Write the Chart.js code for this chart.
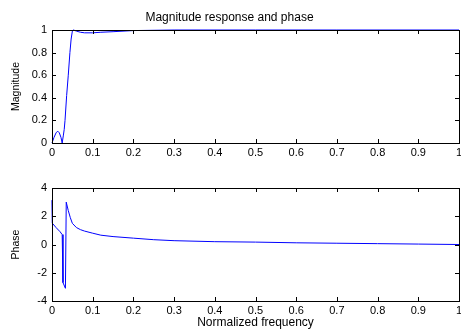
<!DOCTYPE html>
<html>
<head>
<meta charset="utf-8">
<script src="https://cdn.jsdelivr.net/npm/chart.js@4/dist/chart.umd.min.js"></script>
<style>
  body { margin: 0; background: #fff; }
  .box { position: absolute; left: 0; width: 461px; }
</style>
</head>
<body>
<div class="box" style="top:0;height:165px"><canvas id="magChart"></canvas></div>
<div class="box" style="top:165px;height:164px"><canvas id="phaseChart"></canvas></div>
<script>
// frekuensi ternormalisasi dan nilai yang dibaca dari gambar
const freqMag = [0, 0.005, 0.01, 0.014, 0.018, 0.022, 0.025, 0.028, 0.03, 0.032, 0.036, 0.04, 0.044, 0.047, 0.05, 0.053, 0.06, 0.07, 0.08, 0.1, 0.12, 0.15, 0.2, 0.3, 0.5, 0.7, 1];
const magnitude = [0, 0.05, 0.09, 0.105, 0.09, 0.05, 0, 0.07, 0.12, 0.2, 0.42, 0.6, 0.8, 0.92, 0.99, 1.0, 0.99, 0.98, 0.975, 0.975, 0.98, 0.985, 0.995, 1, 1, 1, 1];

const freqPhase = [0, 0.001, 0.01, 0.02, 0.025, 0.027, 0.033, 0.035, 0.04, 0.045, 0.05, 0.06, 0.07, 0.08, 0.1, 0.12, 0.15, 0.2, 0.25, 0.3, 0.4, 0.5, 0.6, 0.7, 0.8, 0.9, 1];
const phase = [3.14, 1.5, 1.2, 0.9, 0.7, -2.7, -3.1, 3.0, 2.4, 1.9, 1.5, 1.2, 1.05, 0.95, 0.8, 0.66, 0.56, 0.45, 0.34, 0.27, 0.2, 0.17, 0.12, 0.09, 0.06, 0.03, 0];

const xTicks = [0, 0.1, 0.2, 0.3, 0.4, 0.5, 0.6, 0.7, 0.8, 0.9, 1];
const magTicks = [0, 0.2, 0.4, 0.6, 0.8, 1];
const phaseTicks = [-4, -2, 0, 2, 4];

const FONT = 'Liberation Sans, Arial, sans-serif';

// kotak dan tick ke dalam seperti gaya matlab
const boxTicks = {
    id: 'boxTicks',
    afterDraw(chart) {
        const { ctx, chartArea: a, scales } = chart;
        const len = 4;
        ctx.save();
        ctx.strokeStyle = '#000';
        ctx.lineWidth = 1;
        ctx.beginPath();
        scales.x.ticks.forEach(t => {
            const px = Math.round(scales.x.getPixelForValue(t.value)) + 0.5;
            ctx.moveTo(px, a.bottom); ctx.lineTo(px, a.bottom - len);
            ctx.moveTo(px, a.top); ctx.lineTo(px, a.top + len);
        });
        scales.y.ticks.forEach(t => {
            const py = Math.round(scales.y.getPixelForValue(t.value)) + 0.5;
            ctx.moveTo(a.left, py); ctx.lineTo(a.left + len, py);
            ctx.moveTo(a.right, py); ctx.lineTo(a.right - len, py);
        });
        ctx.stroke();
        ctx.strokeRect(Math.round(a.left) + 0.5, Math.round(a.top) + 0.5,
            Math.round(a.right - a.left), Math.round(a.bottom - a.top));
        ctx.restore();
    }
};

function makeChart(id, xs, ys, yMin, yMax, yTickVals, yLabel, opts) {
    const pts = xs.map((x, i) => ({ x: x, y: ys[i] }));
    return new Chart(document.getElementById(id), {
        type: 'scatter',
        data: {
            datasets: [{
                data: pts,
                showLine: true,
                borderColor: '#0000ff',
                borderWidth: 1,
                pointRadius: 0,
                tension: 0,
                clip: 2
            }]
        },
        options: {
            responsive: true,
            maintainAspectRatio: false,
            animation: false,
            layout: { padding: opts.padding },
            plugins: {
                legend: { display: false },
                tooltip: { enabled: false },
                title: opts.title ? {
                    display: true,
                    text: opts.title,
                    color: '#000',
                    font: { family: FONT, size: 12, weight: 'normal', lineHeight: 1 },
                    padding: { top: 12, bottom: 6 }
                } : { display: false }
            },
            scales: {
                x: {
                    type: 'linear',
                    min: 0, max: 1,
                    afterBuildTicks: s => { s.ticks = xTicks.map(v => ({ value: v })); },
                    afterFit: s => {
                        s.height = opts.xHeight;
                        s.paddingLeft = 0;
                        s.paddingRight = 0;
                    },
                    grid: { display: false, drawTicks: false },
                    border: { display: false },
                    ticks: {
                        color: '#000',
                        padding: 3,
                        maxRotation: 0,
                        autoSkip: false,
                        font: { family: FONT, size: 11 },
                        callback: v => String(v)
                    },
                    title: opts.xTitle ? {
                        display: true,
                        text: opts.xTitle,
                        color: '#000',
                        padding: { top: 0, bottom: 0 },
                        font: { family: FONT, size: 12, lineHeight: 1 }
                    } : { display: false }
                },
                y: {
                    min: yMin, max: yMax,
                    afterBuildTicks: s => { s.ticks = yTickVals.map(v => ({ value: v })); },
                    afterFit: s => {
                        s.width = 52;
                        s.paddingTop = 0;
                        s.paddingBottom = 0;
                    },
                    grid: { display: false, drawTicks: false },
                    border: { display: false },
                    ticks: {
                        color: '#000',
                        padding: 5,
                        autoSkip: false,
                        font: { family: FONT, size: 11 },
                        callback: v => String(v)
                    },
                    title: {
                        display: true,
                        text: yLabel,
                        color: '#000',
                        padding: { top: 10, bottom: 0 },
                        font: { family: FONT, size: 10.5, lineHeight: 1.2 }
                    }
                }
            }
        },
        plugins: [boxTicks]
    });
}

makeChart('magChart', freqMag, magnitude, 0, 1, magTicks, 'Magnitude', {
    title: 'Magnitude response and phase',
    padding: { left: 0, right: 2, top: 0, bottom: 2 },
    xHeight: 20
});

makeChart('phaseChart', freqPhase, phase, -4, 4, phaseTicks, 'Phase', {
    xTitle: 'Normalized frequency',
    padding: { left: 0, right: 2, top: 23, bottom: 0 },
    xHeight: 28
});
</script>
</body>
</html>
